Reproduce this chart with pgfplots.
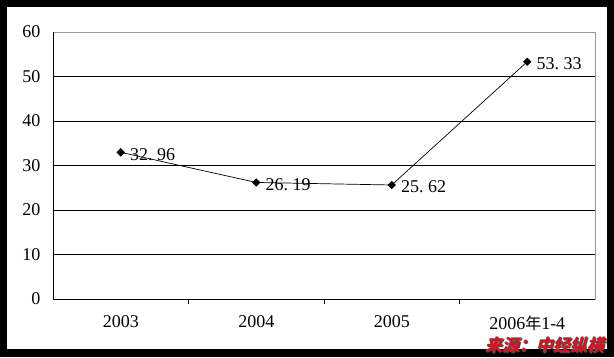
\documentclass[border=0pt]{standalone}
\usepackage{fontspec}
\setmainfont{Liberation Serif}
\newfontfamily\cjk{Noto Sans CJK SC}
\newfontfamily\cjkred[FakeSlant=0.25]{Noto Sans CJK SC}
\usepackage{pgfplots}
\pgfplotsset{compat=1.18}
\definecolor{redsrc}{RGB}{205,25,35}
\begin{document}
\begin{tikzpicture}[x=1pt,y=1pt]
\fill[black] (0,0) rectangle (614,357);
\fill[white] (7,8) rectangle (607,350);
\begin{axis}[at={(53pt,58pt)}, anchor=south west, scale only axis,
 width=542pt, height=267pt,
 xmin=-0.5, xmax=3.5, ymin=0, ymax=60,
 xtick={0,1,2,3}, xticklabels={2003,2004,2005,{2006{\cjk\fontsize{16}{16}\selectfont 年}1-4}},
 minor xtick={0.5,1.5,2.5},
 ytick={0,10,...,60},
 extra y ticks={10,20,...,50}, extra y tick labels={},
 extra y tick style={grid=major, major grid style={black, line width=0.8pt}},
 major tick length=0pt, minor tick length=5pt,
 tick align=outside, xtick pos=bottom, ytick pos=left,
 minor tick style={black, line width=0.8pt},
 axis line style={draw=gray!80},
 tick label style={font=\fontsize{18}{18}\selectfont},
 /pgf/number format/assume math mode=true,
 yticklabel style={xshift=-9pt},
 xticklabel style={yshift=-13pt},
 clip=false,
]
\draw[black, line width=0.8pt] (rel axis cs:0,0) -- (rel axis cs:0,1);
\draw[black, line width=0.8pt] (rel axis cs:0,0) -- (rel axis cs:1,0);
\addplot[black, line width=0.7pt, mark=square*, mark size=2.6pt, mark options={rotate=45},
  nodes near coords, point meta=explicit symbolic,
  nodes near coords style={anchor=west, xshift=8pt, yshift=-2pt, font=\fontsize{18}{18}\selectfont, inner sep=1pt}]
coordinates {
 (0,32.96) [32.\ 96]
 (1,26.19) [26.\ 19]
 (2,25.62) [25.\ 62]
 (3,53.33) [53.\ 33]
};
\end{axis}
\node[anchor=south east, text=black!70, inner sep=0pt] at (605,3) {\fontsize{17}{17}\cjkred\bfseries 来源：中经纵横};
\node[anchor=south east, text=redsrc, inner sep=0pt] at (604,4) {\fontsize{17}{17}\cjkred\bfseries 来源：中经纵横};
\end{tikzpicture}
\end{document}
